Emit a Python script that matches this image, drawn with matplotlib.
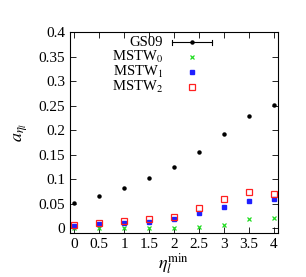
import matplotlib
matplotlib.use('Agg')
import matplotlib.pyplot as plt
import numpy as np

plt.rcParams['font.family'] = ['Liberation Serif', 'DejaVu Serif']
plt.rcParams['mathtext.fontset'] = 'stix'

eta = [0, 0.5, 1, 1.5, 2, 2.5, 3, 3.5, 4]
gs09 = [0.052, 0.065, 0.081, 0.103, 0.125, 0.156, 0.192, 0.229, 0.251]
mstw0 = [0.000, 0.001, 0.000, 0.000, 0.001, 0.002, 0.007, 0.018, 0.021]
mstw1 = [0.005, 0.009, 0.010, 0.012, 0.018, 0.031, 0.0435, 0.056, 0.0585]
mstw2 = [0.006, 0.010, 0.015, 0.018, 0.023, 0.040, 0.0585, 0.0735, 0.070]
labels = ['GS09', r'MSTW$_0$', r'MSTW$_1$', r'MSTW$_2$']

fig = plt.figure(figsize=(3.06, 2.77), dpi=100)
ax = fig.add_axes([0.229, 0.159, 0.679, 0.725])

styles = [dict(marker='o', color='k', ms=2.2, ls='none'),
          dict(marker='x', color='#22dd22', ms=3, mew=0.9, ls='none'),
          dict(marker='s', color='#1f1fff', ms=2.5, ls='none'),
          dict(marker='s', mfc='none', mec='#ff2020', ms=4, mew=0.9, ls='none')]
for ys, st in zip([gs09, mstw0, mstw1, mstw2], styles):
    ax.plot(eta, ys, **st)

# gnuplot-style key: right-aligned text, marker on the right
key_y = [0.950, 0.876, 0.801, 0.726]
tr = ax.transAxes
for lab, ky, st in zip(labels, key_y, styles):
    ax.text(0.447, ky, lab, transform=tr, ha='right', va='center', fontsize=10.5)
    ax.plot([0.587], [ky], transform=tr, clip_on=False, **st)
ax.plot([0.49, 0.683], [key_y[0]] * 2, color='k', lw=0.8, transform=tr)
for xe in (0.49, 0.683):
    ax.plot([xe, xe], [key_y[0] - 0.012, key_y[0] + 0.012], color='k', lw=0.8, transform=tr)

ax.set_xlim(-0.08, 4.08)
ax.set_ylim(-0.01, 0.4)
ax.set_xticks(np.arange(0, 4.01, 0.5))
ax.set_xticklabels(['0', '0.5', '1', '1.5', '2', '2.5', '3', '3.5', '4'])
ax.set_yticks(np.arange(0, 0.401, 0.05))
ax.set_yticklabels(['0', '0.05', '0.1', '0.15', '0.2', '0.25', '0.3', '0.35', '0.4'])
ax.tick_params(direction='in', top=True, right=True, labelsize=11, length=4, width=0.6)
for s in ax.spines.values():
    s.set_linewidth(0.8)
ax.set_xlabel(r'$\eta_l^{\rm min}$', fontsize=13, labelpad=0)
ax.set_ylabel(r'$a_{\eta_l}$', fontsize=13, labelpad=6)

fig.savefig('out.png', dpi=100)
